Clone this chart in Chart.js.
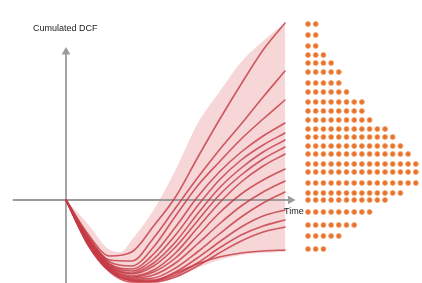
<!DOCTYPE html>
<html>
<head>
<meta charset="utf-8">
<script src="https://cdn.jsdelivr.net/npm/chart.js@4/dist/chart.umd.min.js"></script>
<style>
  html, body { margin: 0; padding: 0; background: #fff; }
  #wrap { width: 422px; height: 283px; position: relative; }
</style>
</head>
<body>
<div id="wrap"><canvas id="dcf" width="422" height="283"></canvas></div>
<script>
// time steps of the simulated cumulated DCF paths
const timeSteps = [0, 1, 2, 3, 4, 5, 6, 7, 8, 9, 10];

// simulated paths (cumulated DCF at each time step)
const dcfPaths = [
  [0, -34, -56, -52, -26, 3, 42, 80, 116, 150, 177],
  [0, -36, -60, -61, -38, -8, 22, 50, 76, 103, 129],
  [0, -37, -62, -66, -47, -16, 14, 38, 61, 81, 100],
  [0, -38, -64, -69, -54, -27, 3, 28, 48, 64, 77],
  [0, -39, -65, -71, -59, -35, -6, 20, 40, 55, 67],
  [0, -40, -66, -73, -63, -42, -14, 12, 32, 48, 60],
  [0, -40, -67, -74, -66, -47, -21, 5, 25, 41, 53],
  [0, -41, -68, -76, -70, -53, -28, -3, 18, 34, 46],
  [0, -42, -68, -77, -72, -58, -36, -13, 6, 20, 31],
  [0, -42, -69, -78, -75, -63, -44, -24, -6, 8, 19],
  [0, -43, -70, -79, -78, -68, -52, -34, -17, -3, 8],
  [0, -43, -70, -80, -80, -72, -58, -42, -27, -16, -10],
  [0, -44, -71, -80, -81, -75, -63, -48, -35, -26, -20],
  [0, -44, -71, -81, -82, -77, -66, -53, -41, -32, -27],
  [0, -45, -72, -82, -81, -73, -64, -57, -53, -51, -50]
];

// shaded envelope around all paths
const envelopeHighT = [0, 1, 2, 2.5, 3, 4, 5, 6, 7, 8, 9, 10];
const envelopeHigh = [0, -24, -50, -52, -40, -10, 30, 76, 108, 138, 159, 177];
const envelopeLow = [0, -46, -73, -83, -83, -78, -68, -60, -55, -53, -52];

// distribution of final values (dot histogram): bin value and number of dots
const binValues = [176, 165, 154, 145, 137, 128, 117, 108, 98, 89, 80, 71, 63,
                   54, 46, 36, 28, 17, 7, 0, -12, -25, -36, -49];
const binCounts = [2, 2, 2, 3, 4, 5, 5, 6, 8, 8, 9, 11, 12,
                   13, 14, 15, 15, 15, 13, 11, 9, 7, 5, 3];

// axis extents
const xAxisFrom = -2.4, xAxisTo = 10.25;
const yAxisFrom = -83, yAxisTo = 148;

// layout: where t=0 / t=10 and the first dot column sit, in canvas px
const W = 422, H = 283;
const t0Px = 66, t10Px = 285;
const pxPerT = (t10Px - t0Px) / 10;
const dot0Px = 308, dotGap = 7.7;

const colors = {
  path: "rgba(196, 58, 70, 0.82)",
  band: "#f6d6d6",
  axis: "#9b9b9b",
  dot: "#e8712c",
  dotRing: "rgba(243, 165, 110, 0.8)",
  text: "#222"
};

const datasets = [];

// dot histogram (drawn on top)
const dotPoints = [];
for (let r = 0; r < binValues.length; r++) {
  for (let i = 0; i < binCounts[r]; i++) {
    dotPoints.push({ x: i, y: binValues[r] });
  }
}
datasets.push({
  type: "scatter",
  data: dotPoints,
  xAxisID: "xd",
  pointRadius: 2.5,
  pointBackgroundColor: colors.dot,
  pointBorderColor: colors.dotRing,
  pointBorderWidth: 1,
  clip: false,
  order: 0
});

// paths
dcfPaths.forEach(function(path) {
  datasets.push({
    data: path.map(function(v, i) { return { x: timeSteps[i], y: v }; }),
    borderColor: colors.path,
    borderWidth: 1.6,
    pointRadius: 0,
    cubicInterpolationMode: "monotone",
    fill: false,
    order: 1
  });
});

// axes with arrow heads
datasets.push({
  data: [{ x: xAxisFrom, y: 0 }, { x: xAxisTo, y: 0 }],
  borderColor: colors.axis,
  borderWidth: 1.8,
  pointRadius: [0, 3.2],
  pointStyle: "triangle",
  pointRotation: 90,
  pointBackgroundColor: colors.axis,
  pointBorderColor: colors.axis,
  fill: false,
  order: 2
});
datasets.push({
  data: [{ x: 0, y: yAxisFrom }, { x: 0, y: yAxisTo }],
  borderColor: colors.axis,
  borderWidth: 1.8,
  pointRadius: [0, 3.2],
  pointStyle: "triangle",
  pointRotation: 0,
  pointBackgroundColor: colors.axis,
  pointBorderColor: colors.axis,
  fill: false,
  order: 2
});

// envelope band (upper fills down to lower)
datasets.push({
  data: envelopeHigh.map(function(v, i) { return { x: envelopeHighT[i], y: v }; }),
  borderWidth: 0,
  borderColor: "transparent",
  backgroundColor: colors.band,
  pointRadius: 0,
  cubicInterpolationMode: "monotone",
  fill: "+1",
  order: 3
});
datasets.push({
  data: envelopeLow.map(function(v, i) { return { x: timeSteps[i], y: v }; }),
  borderWidth: 0,
  borderColor: "transparent",
  pointRadius: 0,
  cubicInterpolationMode: "monotone",
  fill: false,
  order: 3
});

// text labels
const labelsPlugin = {
  id: "labels",
  afterDraw: function(chart) {
    const ctx = chart.ctx;
    ctx.save();
    ctx.fillStyle = colors.text;
    ctx.font = "9px 'Liberation Sans', Arial, sans-serif";
    ctx.textBaseline = "middle";
    ctx.textAlign = "left";
    ctx.fillText("Cumulated DCF", 33, 29);
    ctx.fillText("Time", 284, 212);
    ctx.restore();
  }
};

new Chart(document.getElementById("dcf"), {
  type: "line",
  data: { datasets: datasets },
  options: {
    responsive: false,
    animation: false,
    layout: { padding: 0, autoPadding: false },
    plugins: { legend: { display: false }, tooltip: { enabled: false } },
    elements: { line: { borderCapStyle: "round" } },
    scales: {
      x: {
        type: "linear", display: false,
        min: -t0Px / pxPerT, max: (W - t0Px) / pxPerT
      },
      xd: {
        type: "linear", display: false,
        min: -dot0Px / dotGap, max: (W - dot0Px) / dotGap
      },
      y: {
        type: "linear", display: false,
        min: -83, max: 200
      }
    }
  },
  plugins: [labelsPlugin]
});
</script>
</body>
</html>
